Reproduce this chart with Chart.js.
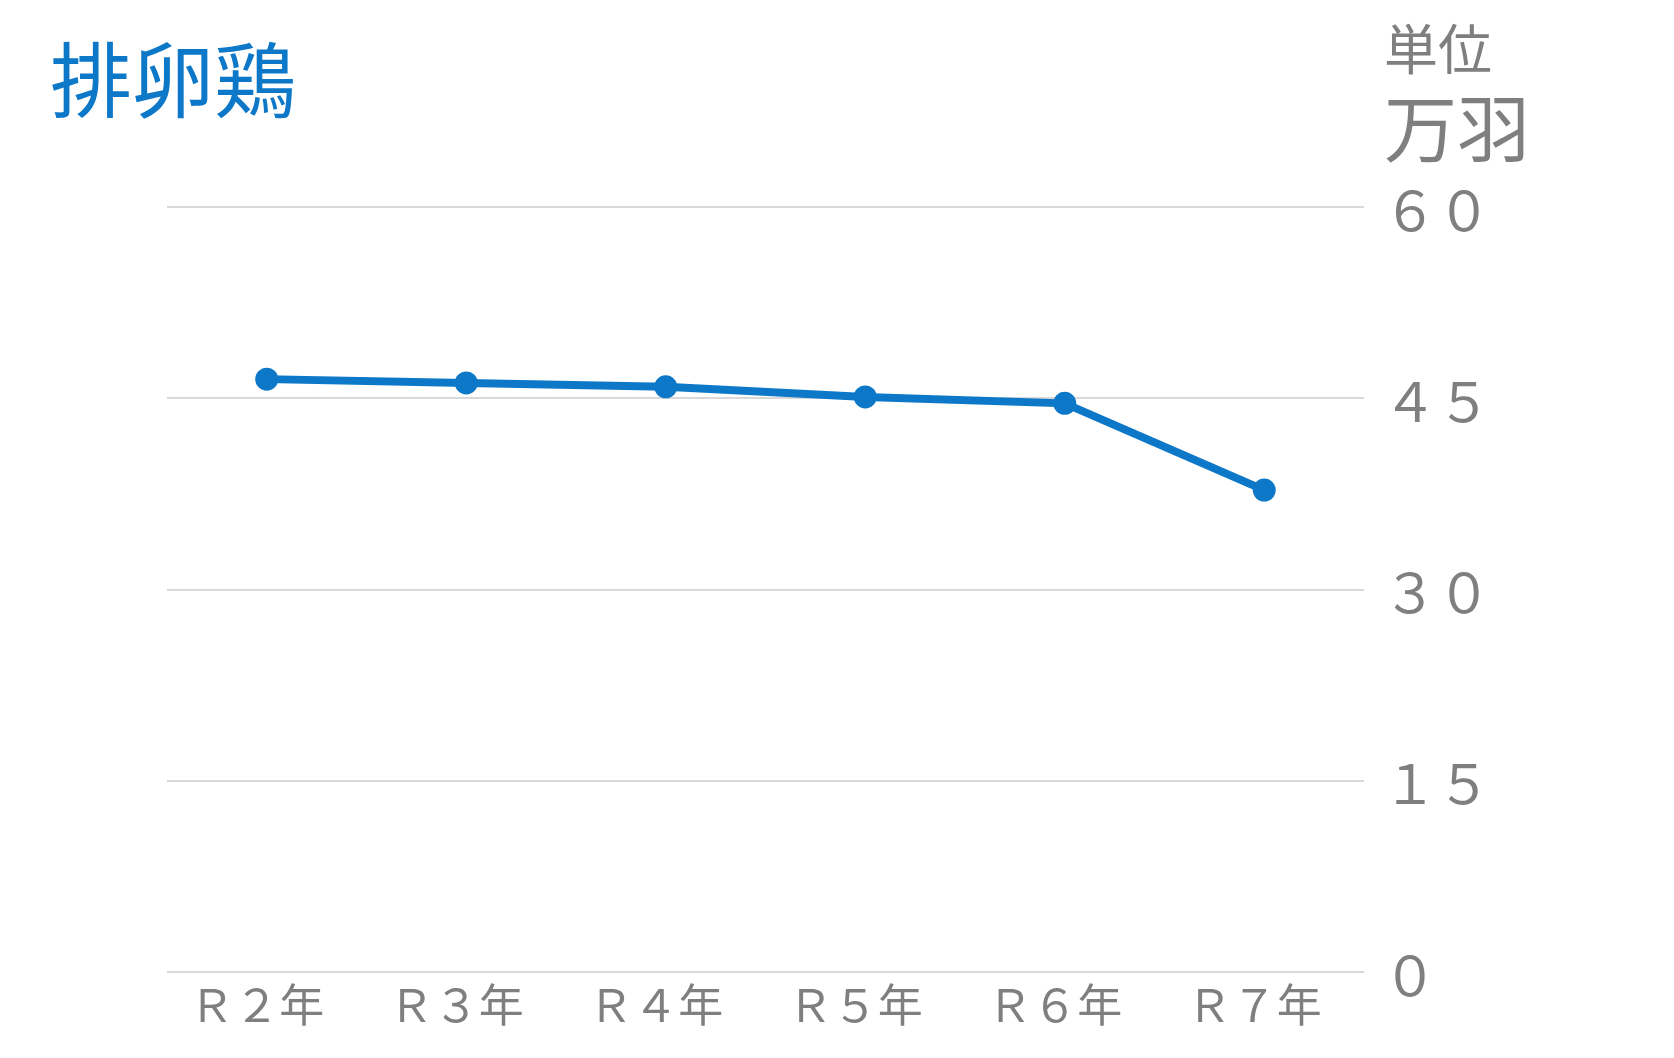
<!DOCTYPE html>
<html><head><meta charset="utf-8">
<script src="https://cdn.jsdelivr.net/npm/chart.js@4"></script>
<style>
html,body{margin:0;padding:0;background:#fff;}
#wrap{position:relative;width:1674px;height:1058px;}
canvas{position:absolute;left:0;top:0;}
.t{position:absolute;font-family:"Noto Sans CJK JP","Noto Sans",sans-serif;white-space:nowrap;line-height:1;}
#title{left:50px;top:35px;font-size:82px;color:#0E78C8;}
#unit1{left:1384px;top:20px;font-size:54px;color:#7f7f7f;}
#unit2{left:1384px;top:88px;font-size:73px;color:#7f7f7f;}
</style></head>
<body><div id="wrap">
<canvas id="c" width="1674" height="1058"></canvas>
<div class="t" id="title">排卵鶏</div>
<div class="t" id="unit1">単位</div>
<div class="t" id="unit2">万羽</div>
</div>
<script>
const categories = ["Ｒ２年","Ｒ３年","Ｒ４年","Ｒ５年","Ｒ６年","Ｒ７年"];
const values = [46.5, 46.2, 45.9, 45.1, 44.6, 37.8];
const yTicks = [0, 15, 30, 45, 60];
const yTickLabels = {0:"０",15:"１５",30:"３０",45:"４５",60:"６０"};

new Chart(document.getElementById('c'), {
  type: 'line',
  data: { labels: categories, datasets: [{
    data: values, borderColor: '#0E78C8', backgroundColor: '#0E78C8',
    borderWidth: 8, pointRadius: 11.5, pointHoverRadius: 11.5,
    pointBackgroundColor: '#0E78C8', pointBorderWidth: 0, tension: 0
  }]},
  options: {
    responsive: false, animation: false, devicePixelRatio: 1,
    layout: { padding: { top: 207, left: 167, right: 0, bottom: 0 } },
    plugins: { legend: { display: false }, tooltip: { enabled: false } },
    scales: {
      x: {
        offset: true,
        grid: { display: false, drawTicks: false },
        border: { display: false },
        ticks: { color: '#7f7f7f', font: { family: '"Noto Sans CJK JP"', size: 45 }, padding: 6, maxRotation: 0, labelOffset: -10 },
        afterFit: s => { s.height = 86; }
      },
      y: {
        position: 'right', min: 0, max: 60,
        afterBuildTicks: s => { s.ticks = yTicks.map(v => ({ value: v })); },
        grid: { color: '#d9d9d9', lineWidth: 2, drawTicks: false },
        border: { display: false },
        ticks: { color: '#7f7f7f', font: { family: '"Noto Sans CJK JP"', size: 54 }, padding: 19, labelOffset: 3,
                 callback: v => yTickLabels[v] },
        afterFit: s => { s.width = 310; }
      }
    }
  }
});
</script>
</body></html>
